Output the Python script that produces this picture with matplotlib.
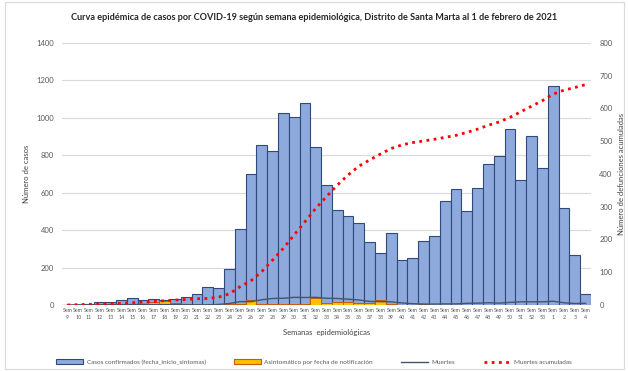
import matplotlib
matplotlib.use("Agg")
import matplotlib.pyplot as plt
from matplotlib.patches import Rectangle
from matplotlib.lines import Line2D

plt.rcParams["font.family"] = ["Lato", "DejaVu Sans"]

# semana epidemiologica 9..53 de 2020 y 1..4 de 2021
semanas = list(range(9, 54)) + [1, 2, 3, 4]

casos = [2, 2, 3, 14, 14, 28, 37, 27, 34, 25, 30, 43, 59, 94, 89, 192,
         405, 700, 856, 821, 1025, 1002, 1079, 845, 641, 506, 475, 436,
         338, 276, 383, 240, 251, 344, 368, 554, 618, 500, 627, 751, 796,
         938, 667, 902, 733, 1171, 520, 267, 57]

asintomaticos = [0, 0, 0, 0, 0, 0, 0, 5, 18, 20, 10, 3, 2, 2, 2, 3,
                 4, 28, 5, 3, 3, 4, 4, 36, 9, 14, 14, 10, 10, 25, 3, 2,
                 2, 6, 1, 1, 1, 1, 1, 1, 1, 1, 1, 1, 1, 1, 1, 1, 1]

muertes = [0, 1, 1, 1, 2, 2, 2, 3, 2, 2, 2, 2, 1, 1, 3, 8, 18, 18, 28,
           35, 36, 41, 40, 41, 36, 35, 31, 27, 19, 18, 17, 11, 7, 5, 5,
           6, 6, 9, 10, 12, 10, 14, 17, 17, 17, 20, 12, 8, 9]

muertes_acum = [0, 1, 2, 3, 4, 5, 7, 9, 11, 13, 15, 17, 19, 20, 24, 34,
                56, 74, 102, 137, 173, 214, 254, 295, 331, 366, 397, 424,
                443, 461, 478, 489, 496, 501, 506, 512, 518, 527, 537, 549,
                559, 573, 590, 607, 624, 644, 656, 664, 673]

AZUL = "#8EA9DB"
AZUL_BORDE = "#2F4A7A"
AMARILLO = "#FFC000"
AMARILLO_BORDE = "#C55A11"
GRIS_LINEA = "#44546A"
ROJO = "#FF0000"
TXT = "#595959"

fig = plt.figure(figsize=(6.28, 3.71), dpi=100)
fig.patches.append(Rectangle((0.008, 0.006), 0.986, 0.988, transform=fig.transFigure,
                             fill=False, edgecolor="#D9D9D9", linewidth=0.8))

ax = fig.add_axes([62 / 628, 66 / 371, 529 / 628, 262 / 371])
x = list(range(len(semanas)))

ax.bar(x, casos, width=1.0, color=AZUL, edgecolor=AZUL_BORDE, linewidth=0.8, zorder=2)
ax.bar(x, asintomaticos, width=1.0, color=AMARILLO, edgecolor=AMARILLO_BORDE,
       linewidth=0.7, zorder=3)
ax.plot(x, muertes, color=GRIS_LINEA, linewidth=1.0, zorder=4)

ax.set_xlim(-0.5, len(semanas) - 0.5)
ax.set_ylim(0, 1400)
ax.set_yticks(range(0, 1401, 200))
ax.grid(axis="y", color="#D9D9D9", linewidth=0.8, zorder=0)
ax.set_axisbelow(True)
for s in ax.spines.values():
    s.set_visible(False)
ax.axhline(0, color="#BFBFBF", linewidth=0.8, zorder=1)
ax.tick_params(axis="y", length=0, pad=6, labelsize=5.5, labelcolor=TXT)
ax.set_xticks(x)
ax.set_xticklabels([f"Sem\n{s}" for s in semanas], fontsize=3.8, color=TXT,
                   linespacing=1.6)
ax.tick_params(axis="x", length=0, pad=2)
ax.set_ylabel("Número de casos", fontsize=5.5, color="#404040")
ax.yaxis.set_label_coords((30 - 62) / 529, 0.5)
ax.set_xlabel("Semanas  epidemiológicas", fontsize=5.5, color="#404040", labelpad=6)

ax2 = ax.twinx()
ax2.plot(x, muertes_acum, color=ROJO, linestyle=(0, (1, 1.6)), linewidth=2.0,
         zorder=5)
ax2.set_ylim(0, 800)
ax2.set_yticks(range(0, 801, 100))
for s in ax2.spines.values():
    s.set_visible(False)
ax2.tick_params(axis="y", length=0, pad=6, labelsize=5.5, labelcolor=TXT)
ax2.set_ylabel("Número de defunciones acumuladas", fontsize=5.5, color="#404040")
ax2.yaxis.set_label_coords((618 - 62) / 529, 0.5)

fig.text(0.5, 0.953, "Curva epidémica de casos por COVID-19 según semana epidemiológica, "
         "Distrito de Santa Marta al 1 de febrero de 2021",
         ha="center", va="center", fontsize=6.6, fontweight="bold", color="#262626")

handles = [
    Rectangle((0, 0), 1, 1, facecolor=AZUL, edgecolor=AZUL_BORDE, linewidth=0.8),
    Rectangle((0, 0), 1, 1, facecolor=AMARILLO, edgecolor=AMARILLO_BORDE, linewidth=0.8),
    Line2D([], [], color=GRIS_LINEA, linewidth=1.0),
    Line2D([], [], color=ROJO, linestyle=(0, (1, 1.6)), linewidth=2.0),
]
labels = ["Casos confirmados (fecha_inicio_sintomas)",
          "Asintomático por fecha de notificación", "Muertes", "Muertes acumuladas"]
fig.legend(handles, labels, loc="center", bbox_to_anchor=(0.5, 0.024), ncol=4,
           frameon=False, fontsize=4.6, labelcolor=TXT, handlelength=4.2,
           handleheight=0.9, columnspacing=4.4, handletextpad=0.6)

fig.savefig("out.png", dpi=100)
